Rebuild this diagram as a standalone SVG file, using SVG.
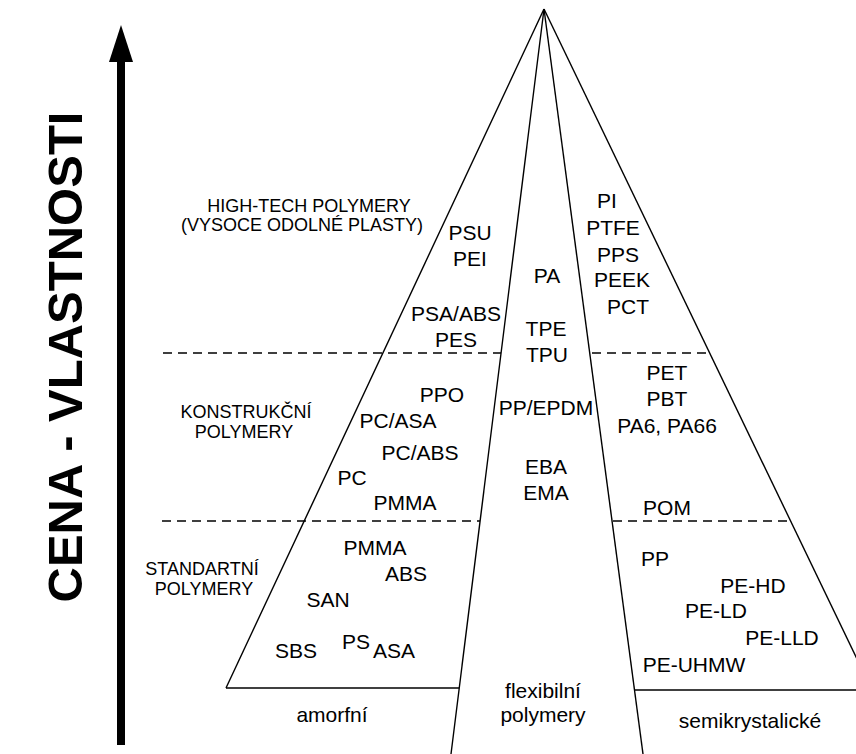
<svg xmlns="http://www.w3.org/2000/svg" width="856" height="754" viewBox="0 0 856 754">
<style>
.ln{stroke:#000;stroke-width:1.4;fill:none}
.ds{stroke:#000;stroke-width:1.3;fill:none;stroke-dasharray:9,6}
text{font-family:"Liberation Sans",Arial,sans-serif;fill:#000}
.m{font-size:21px;text-anchor:middle}
.c{font-size:18px;text-anchor:middle}
</style>
<rect width="856" height="754" fill="#fff"/>
<g id="connectors">
<line class="ln" x1="544" y1="9" x2="226" y2="688"/>
<line class="ln" x1="544" y1="9" x2="451" y2="754"/>
<line class="ln" x1="544" y1="9" x2="643" y2="754"/>
<line class="ln" x1="544" y1="9" x2="872" y2="690"/>
<line class="ln" x1="226" y1="688" x2="459" y2="688"/>
<line class="ln" x1="635" y1="690" x2="856" y2="690"/>
<line class="ds" x1="163" y1="353" x2="501" y2="353"/>
<line class="ds" x1="592" y1="353" x2="709" y2="353"/>
<line class="ds" x1="162" y1="521" x2="480" y2="521"/>
<line class="ds" x1="613" y1="521" x2="789" y2="521"/>
</g>
<g id="axis">
<rect x="117" y="60" width="8" height="685" fill="#000"/>
<polygon points="121,25 109,62 133,62" fill="#000"/>
<text x="82" y="357" transform="rotate(-90 82 357)" style="font-size:49px;font-weight:bold;text-anchor:middle">CENA - VLASTNOSTI</text>
</g>
<g id="cat-hightech"><text class="c" x="309" y="212">HIGH-TECH POLYMERY</text><text class="c" x="302" y="231">(VYSOCE ODOLNÉ PLASTY)</text></g>
<g id="cat-konstrukcni"><text class="c" x="246" y="418">KONSTRUKČNÍ</text><text class="c" x="244" y="438">POLYMERY</text></g>
<g id="cat-standardni"><text class="c" x="202" y="575">STANDARTNÍ</text><text class="c" x="204" y="595">POLYMERY</text></g>
<g id="amorfni">
<text class="m" x="470" y="240">PSU</text>
<text class="m" x="470" y="266">PEI</text>
<text class="m" x="456" y="321">PSA/ABS</text>
<text class="m" x="456" y="347">PES</text>
<text class="m" x="442" y="402">PPO</text>
<text class="m" x="398" y="428">PC/ASA</text>
<text class="m" x="420" y="460">PC/ABS</text>
<text class="m" x="352" y="485">PC</text>
<text class="m" x="405" y="510">PMMA</text>
<text class="m" x="375" y="555">PMMA</text>
<text class="m" x="406" y="581">ABS</text>
<text class="m" x="328" y="607">SAN</text>
<text class="m" x="356" y="649">PS</text>
<text class="m" x="394" y="658">ASA</text>
<text class="m" x="296" y="658">SBS</text>
<text class="m" x="332" y="722">amorfní</text>
</g>
<g id="flexibilni">
<text class="m" x="547" y="283">PA</text>
<text class="m" x="546" y="336">TPE</text>
<text class="m" x="547" y="362">TPU</text>
<text class="m" x="546" y="415">PP/EPDM</text>
<text class="m" x="546" y="474">EBA</text>
<text class="m" x="546" y="500">EMA</text>
<text class="m" x="543" y="698">flexibilní</text>
<text class="m" x="543" y="722">polymery</text>
</g>
<g id="semikrystalicke">
<text class="m" x="607" y="208">PI</text>
<text class="m" x="613" y="235">PTFE</text>
<text class="m" x="618" y="262">PPS</text>
<text class="m" x="622" y="287">PEEK</text>
<text class="m" x="628" y="314">PCT</text>
<text class="m" x="667" y="380">PET</text>
<text class="m" x="667" y="406">PBT</text>
<text class="m" x="667" y="433">PA6, PA66</text>
<text class="m" x="667" y="515">POM</text>
<text class="m" x="655" y="566">PP</text>
<text class="m" x="753" y="593">PE-HD</text>
<text class="m" x="716" y="618">PE-LD</text>
<text class="m" x="782" y="645">PE-LLD</text>
<text class="m" x="694" y="672">PE-UHMW</text>
<text class="m" x="750" y="728">semikrystalické</text>
</g>
</svg>
